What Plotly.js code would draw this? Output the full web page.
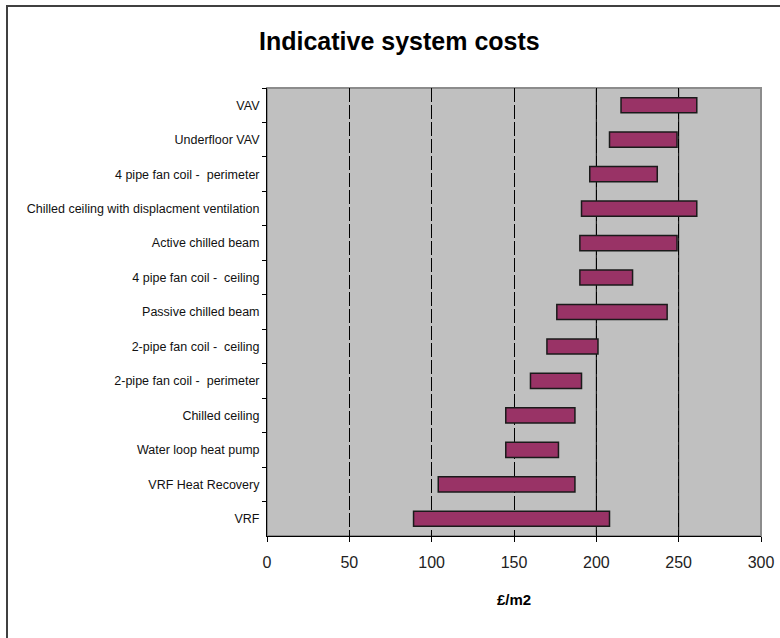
<!DOCTYPE html>
<html>
<head>
<meta charset="utf-8">
<script src="https://cdn.plot.ly/plotly-3.0.1.min.js"></script>
<style>
  html, body { margin: 0; padding: 0; background: #fff; }
  #chart { width: 780px; height: 638px; position: relative; }
  #frame { position: absolute; left: 6px; top: 5px; width: 800px; height: 660px;
           border-left: 2px solid #404040; border-top: 2px solid #404040; pointer-events: none; z-index: 5; }
</style>
</head>
<body>
<div id="chart"></div>
<div id="frame"></div>
<script>
// Systems, top to bottom
const systems = [
  "VAV",
  "Underfloor VAV",
  "4 pipe fan coil -  perimeter",
  "Chilled ceiling with displacment ventilation",
  "Active chilled beam",
  "4 pipe fan coil -  ceiling",
  "Passive chilled beam",
  "2-pipe fan coil -  ceiling",
  "2-pipe fan coil -  perimeter",
  "Chilled ceiling",
  "Water loop heat pump",
  "VRF Heat Recovery",
  "VRF"
];
// Cost range, £/m2
const lowCost  = [215, 208, 196, 191, 190, 190, 176, 170, 160, 145, 145, 104, 89];
const highCost = [261, 249, 237, 261, 249, 222, 243, 201, 191, 187, 177, 187, 208];
const xTicks = [0, 50, 100, 150, 200, 250, 300];
const solidGridValues = [200, 250];

const widths = highCost.map((h, i) => h - lowCost[i]);

const trace = {
  type: 'bar',
  orientation: 'h',
  y: systems,
  base: lowCost,
  x: widths,
  marker: { color: '#993366', line: { color: '#1a1a1a', width: 1.5 } },
  hoverinfo: 'skip'
};

const shapes = solidGridValues.map(v => ({
  type: 'line', xref: 'x', yref: 'paper', x0: v, x1: v, y0: 0, y1: 1,
  line: { color: '#000', width: 1 }, layer: 'between'
}));
shapes.push({
  type: 'rect', xref: 'paper', yref: 'paper', x0: 0, x1: 1, y0: 0, y1: 1,
  line: { color: '#8c8c8c', width: 2 }, layer: 'below'
});

const layout = {
  width: 780, height: 638,
  margin: { l: 267, r: 19, t: 88, b: 102 },
  paper_bgcolor: '#ffffff',
  plot_bgcolor: '#c0c0c0',
  showlegend: false,
  bargap: 0.56,
  font: { family: 'Liberation Sans, Arial, sans-serif', color: '#111' },
  title: {
    text: 'Indicative system costs',
    font: { family: 'Liberation Sans, Arial, sans-serif', size: 25, color: '#000', weight: 'bold' },
    xref: 'container', x: 0.512, xanchor: 'center',
    yref: 'container', y: 0.935, yanchor: 'middle'
  },
  xaxis: {
    range: [0, 300],
    tickvals: xTicks,
    ticktext: xTicks.map(String),
    ticks: 'outside', ticklen: 5, tickcolor: '#000', tickwidth: 1,
    showline: true, linecolor: '#000', linewidth: 1,
    showgrid: true, gridcolor: '#000', gridwidth: 1, griddash: '14px,3px',
    zeroline: false,
    tickfont: { size: 16, color: '#222' },
    ticklabelstandoff: 7,
    title: { text: '£/m2', font: { size: 15, color: '#000', weight: 'bold' }, standoff: 24 },
    fixedrange: true
  },
  yaxis: {
    type: 'category',
    autorange: 'reversed',
    tickson: 'boundaries',
    ticks: 'outside', ticklen: 4, tickcolor: '#000', tickwidth: 1,
    showline: true, linecolor: '#000', linewidth: 1,
    showgrid: false, zeroline: false,
    tickfont: { size: 12.5, color: '#111' },
    ticklabelstandoff: 4,
    fixedrange: true
  },
  shapes: shapes
};

Plotly.newPlot('chart', [trace], layout, { displayModeBar: false, staticPlot: true });
</script>
</body>
</html>
